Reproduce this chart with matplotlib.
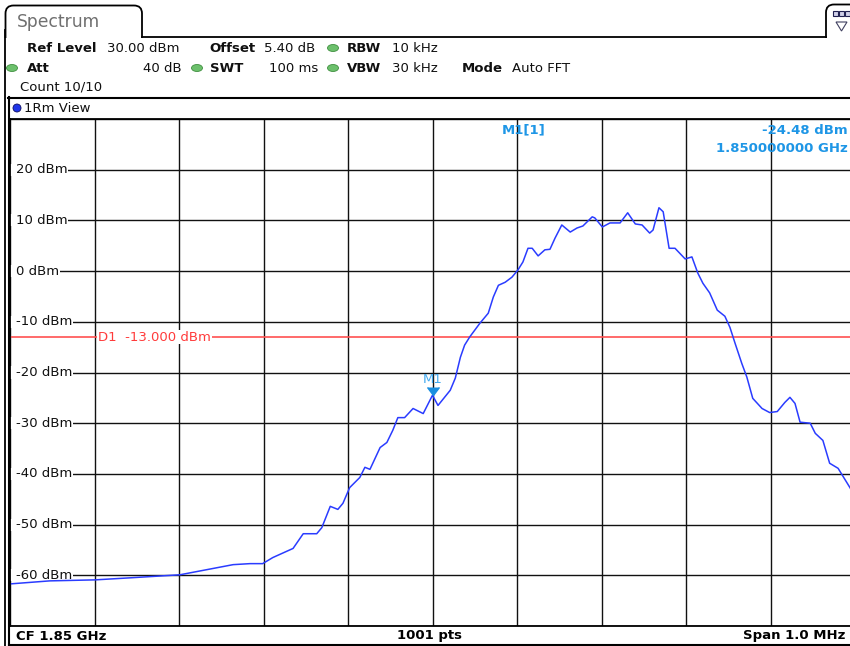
import matplotlib
matplotlib.use("Agg")
import matplotlib.pyplot as plt
import matplotlib.transforms as mtransforms
from matplotlib.patches import FancyBboxPatch, Ellipse, Circle, Polygon

# trace: frequency offset from CF (kHz) and level (dBm)
freq_khz = [-500, -453, -399, -358, -299, -236, -216, -201, -189, -165, -153,
            -137, -131, -121, -112, -106, -98, -86, -80, -74, -62, -54, -47,
            -41, -33, -23, -11, 0, 6.5, 21, 27, 33, 38, 44, 56, 66, 72, 78,
            86, 94, 101, 107, 113, 118, 125, 133, 139, 145, 153, 163, 171,
            178, 189, 192, 201, 210, 222, 231, 240, 248, 257, 261, 268, 273,
            280, 287, 299, 307, 314, 320, 328, 337, 346, 352, 358, 366, 372,
            379, 390, 399, 408, 417, 423, 429, 435, 447, 453, 462, 470, 480,
            494, 500]
level_dbm = [-61.7, -61.1, -60.9, -60.5, -59.9, -57.9, -57.7, -57.7, -56.5,
             -54.7, -51.8, -51.8, -50.6, -46.4, -47.0, -45.8, -42.7, -40.7,
             -38.7, -39.1, -34.8, -33.8, -31.4, -28.9, -28.9, -27.1, -28.1,
             -24.48, -26.5, -23.5, -21.1, -17.0, -14.6, -13.0, -10.3, -8.3,
             -5.1, -2.8, -2.2, -1.2, 0.2, 1.8, 4.5, 4.5, 3.0, 4.2, 4.3, 6.5,
             9.1, 7.7, 8.5, 8.9, 10.7, 10.5, 8.7, 9.5, 9.5, 11.5, 9.3, 9.1,
             7.5, 8.1, 12.5, 11.7, 4.5, 4.5, 2.4, 2.8, -0.4, -2.4, -4.3,
             -7.7, -8.9, -11.1, -14.2, -18.2, -20.9, -25.1, -27.1, -27.9,
             -27.7, -25.9, -24.9, -26.1, -29.8, -30.0, -32.0, -33.4, -37.9,
             -38.9, -42.7, -44.5]

y_ticks = [20, 10, 0, -10, -20, -30, -40, -50, -60]
display_line = -13.0
marker_freq = 0
marker_level = -24.48

W, H = 850, 646
fig = plt.figure(figsize=(W / 100, H / 100), dpi=100)
fig.patch.set_facecolor("white")

# background axes in pixel coords
bg = fig.add_axes([0, 0, 1, 1])
bg.set_xlim(0, W)
bg.set_ylim(H, 0)
bg.axis("off")

k = "black"
fs = 9.5
blue_txt = "#1e96e6"

# tabs
tab = FancyBboxPatch((5.5, 5.5), 136.5, 50, boxstyle="round,pad=0,rounding_size=8",
                     fc="white", ec=k, lw=1.3)
bg.add_patch(tab)
bg.add_patch(plt.Rectangle((4, 37.5), W, 20, fc="white", ec="none", zorder=2))
tab2 = FancyBboxPatch((826, 4.5), 40, 50, boxstyle="round,pad=0,rounding_size=8",
                      fc="white", ec=k, lw=1.3)
bg.add_patch(tab2)
bg.add_patch(plt.Rectangle((820, 37.5), 40, 20, fc="white", ec="none", zorder=2))
bg.plot([142, 826], [37, 37], color=k, lw=1.3, zorder=3)
bg.plot([5.5, 5.5], [30, H], color=k, lw=1.3, zorder=3)
bg.text(17, 22, "Spectrum", fontsize=12.3, color="#707070", va="center", zorder=3)
# icon on right tab
for i in range(3):
    bg.add_patch(plt.Rectangle((833 + i * 6, 11), 5, 5, fc="#d0d0e8", ec="#202050", lw=0.8, zorder=3))
bg.add_patch(Polygon([[836, 22], [847, 22], [841.5, 31]], closed=True, fc="white",
                     ec="#404060", lw=0.8, zorder=3))

# header settings
def hdr(x, y, s, bold=False, ha="left"):
    bg.text(x, y, s, fontsize=fs, fontweight="bold" if bold else "normal",
            va="center", ha=ha, color="#101010", zorder=3)

def led(x, y):
    bg.add_patch(Ellipse((x, y), 11, 7, fc="#6cc06c", ec="#3f8f3f", lw=0.6, zorder=3))

hdr(27, 48, "Ref Level", True)
hdr(107, 48, "30.00 dBm")
hdr(209, 48, "Offset", True)
hdr(264, 48, "5.40 dB")
led(333, 48)
hdr(347, 48, "RBW", True)
hdr(392, 48, "10 kHz")
led(12, 68)
hdr(27, 68, "Att", True)
hdr(182, 68, "40 dB", ha="right")
led(197, 68)
hdr(210, 68, "SWT", True)
hdr(269, 68, "100 ms")
led(333, 68)
hdr(347, 68, "VBW", True)
hdr(392, 68, "30 kHz")
hdr(462, 68, "Mode", True)
hdr(512, 68, "Auto FFT")
hdr(20, 87, "Count 10/10")

# view pane
bg.plot([8, W], [97.5, 97.5], color=k, lw=1.5, zorder=3)
bg.plot([9.5, 9.5], [97, H], color=k, lw=1.5, zorder=3)
bg.add_patch(Circle((17, 108), 4, fc="#1f35e8", ec="#101060", lw=0.6, zorder=3))
hdr(24, 108, "1Rm View")

# footer
bg.plot([9, W], [645, 645], color=k, lw=1.5, zorder=3)
bg.text(16, 636, "CF 1.85 GHz", fontsize=fs, fontweight="bold", va="center", zorder=3)
bg.text(430, 636, "1001 pts", fontsize=fs, fontweight="bold", va="center", ha="center", zorder=3)
bg.text(845, 636, "Span 1.0 MHz", fontsize=fs, fontweight="bold", va="center", ha="right", zorder=3)

# plot area
x0, x1, ytop, ybot = 10, 855, 119, 626
ax = fig.add_axes([x0 / W, (H - ybot) / H, (x1 - x0) / W, (ybot - ytop) / H])
ax.set_xlim(-500, 500)
ax.set_ylim(-70, 30)
ax.set_xticks(range(-500, 501, 100))
ax.set_yticks(range(-70, 31, 10))
ax.tick_params(length=0, labelbottom=False, labelleft=False)
ax.grid(True, color="#111111", lw=1.0)
ax.set_axisbelow(True)
for s in ax.spines.values():
    s.set_color(k)
    s.set_linewidth(1.3)
    s.set_zorder(10)

# level labels: white gap before label, grid line resumes right after it
blend = mtransforms.blended_transform_factory(ax.transAxes, ax.transData)
for v in y_ticks:
    ax.add_patch(plt.Rectangle((0, v - 1.2), 8 / 845, 2.4, transform=blend,
                               fc="white", ec="none", zorder=4))
    ax.annotate(f"{v} dBm", xy=(6 / 845, v), xycoords=("axes fraction", "data"),
                fontsize=fs, va="center", ha="left", color="#101010",
                bbox=dict(fc="white", ec="none", pad=0.5), zorder=4)

ax.axhline(display_line, color="#ff5050", lw=1.2, zorder=3)
ax.annotate(f"D1  {display_line:.3f} dBm", xy=(88 / 845, display_line),
            xycoords=("axes fraction", "data"), fontsize=fs, va="center",
            ha="left", color="#ff3b3b",
            bbox=dict(fc="white", ec="none", pad=0.6), zorder=4)

ax.plot(freq_khz, level_dbm, color="#2a3cff", lw=1.1, zorder=5)
ax.plot(marker_freq, marker_level, marker=7, color="#1a8fe0", ms=8, zorder=6)
ax.annotate("M1", xy=(marker_freq, marker_level), xytext=(0, 16),
            textcoords="offset pixels", ha="center", va="center",
            fontsize=fs, color="#45aaee", zorder=6)

ax.text(492 / 845, 1 - 11 / 507, "M1[1]", transform=ax.transAxes,
        fontsize=fs, fontweight="bold", color=blue_txt, va="center", zorder=6)
ax.text(838 / 845, 1 - 11 / 507, f"{marker_level:.2f} dBm", transform=ax.transAxes,
        fontsize=fs, fontweight="bold", color=blue_txt, va="center", ha="right", zorder=6)
ax.text(838 / 845, 1 - 29 / 507, "1.850000000 GHz", transform=ax.transAxes,
        fontsize=fs, fontweight="bold", color=blue_txt, va="center", ha="right", zorder=6)

fig.savefig("out.png", dpi=100, facecolor="white")
